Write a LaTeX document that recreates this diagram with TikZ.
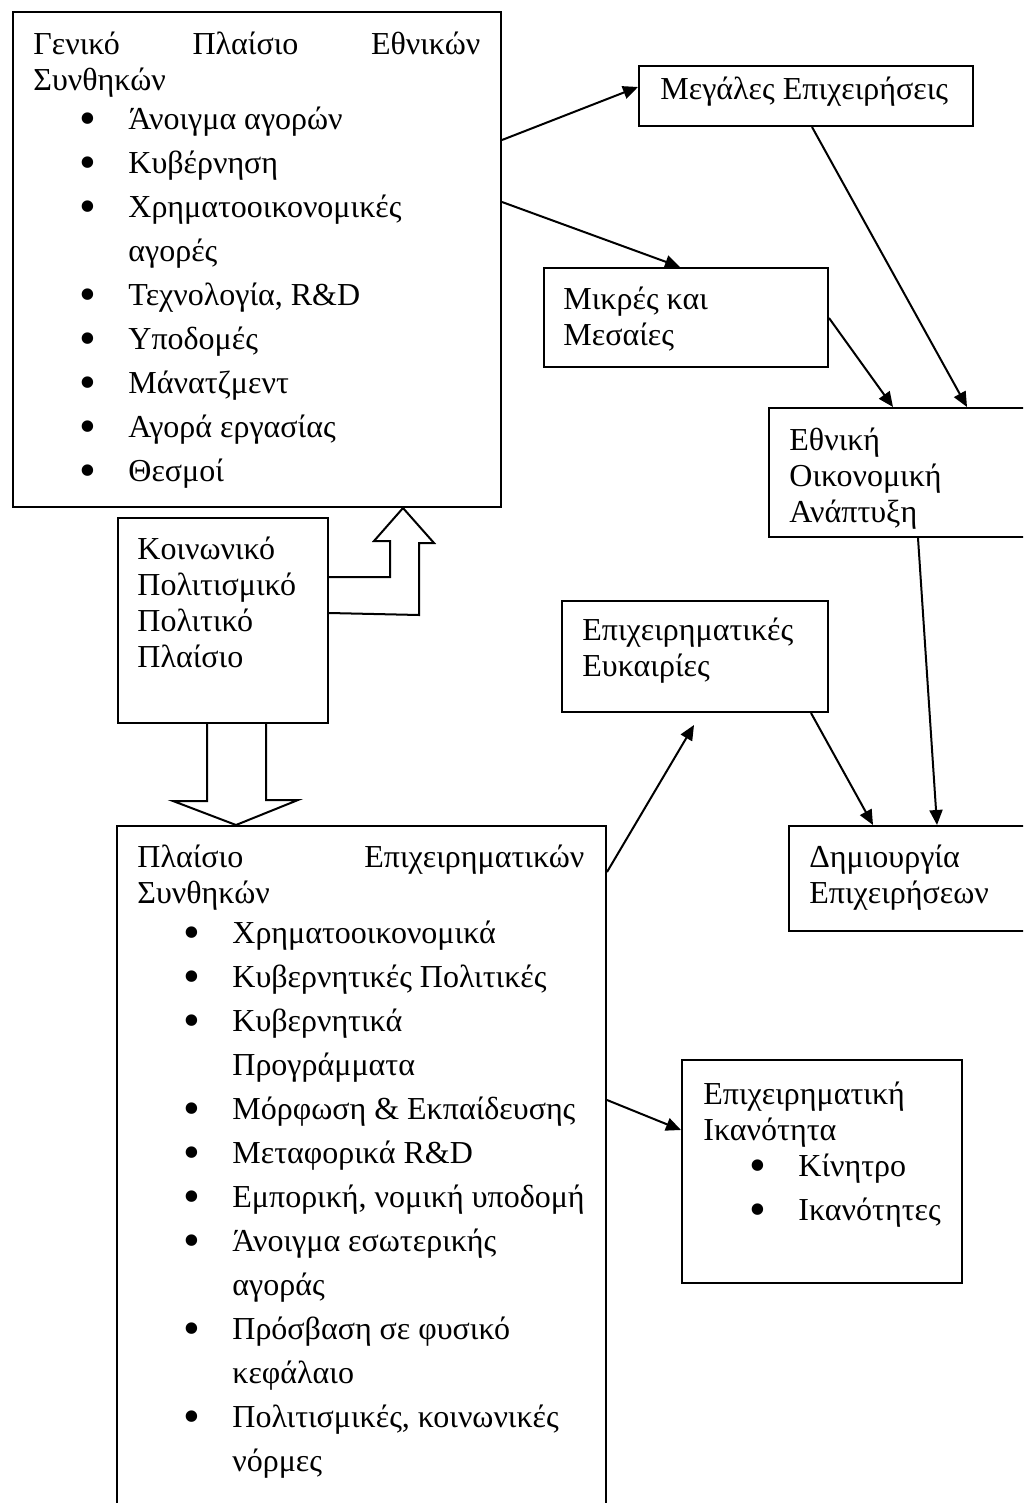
\documentclass[tikz,border=0pt]{standalone}
\usepackage{fontspec}
\usepackage{graphicx}
\setmainfont{Liberation Serif}
\usetikzlibrary{arrows.meta,calc}
\tikzset{
  frm/.style={draw, line width=1pt, anchor=north west, inner sep=0pt},
  txt/.style={anchor=north west, inner sep=0pt, align=left,
    font=\fontsize{16}{18}\selectfont},
  arr/.style={-{Triangle[length=7.5pt,width=6.5pt]}, line width=1pt},
  hollow/.style={draw, line width=1pt, line join=miter},
}
\newcommand{\fl}{\rule{0pt}{15pt}}
\newcommand{\blt}{\smash{\raisebox{-2.3pt}{\scalebox{1.5}{\textbullet}}}}
\newcommand{\itm}[1]{\hspace*{23pt}\makebox[24.5pt][l]{\blt}#1}
\newcommand{\cnt}[1]{\hspace*{47.5pt}#1}
\newcommand{\jst}[2]{\makebox[223.5pt][s]{#1\hfill #2}}

\begin{document}
\begin{tikzpicture}[x=0.5pt, y=-0.5pt]
  \path[use as bounding box, clip] (0,0) rectangle (1023,1503);
  % frames
  \node[frm, minimum width=244pt, minimum height=247.5pt] (gen) at (12,11) {};
  \node[frm, minimum width=167pt, minimum height=30pt] (big) at (638,65) {};
  \node[frm, minimum width=142pt, minimum height=49.5pt] (sme) at (543,267) {};
  \node[frm, minimum width=150pt, minimum height=64.5pt] (nat) at (768,407) {};
  \node[frm, minimum width=105pt, minimum height=102.5pt] (soc) at (117,517) {};
  \node[frm, minimum width=133pt, minimum height=55.5pt] (opp) at (561,600) {};
  \node[frm, minimum width=150pt, minimum height=52.5pt] (cre) at (788,825) {};
  \node[frm, minimum width=244.5pt, minimum height=360pt] (bus) at (116,825) {};
  \node[frm, minimum width=140pt, minimum height=111.5pt] (cap) at (681,1059) {};
  % texts (first baseline 30 units below the node's top)
  \node[txt] (gentxt) at ($(gen.north west)+(21,13)$) {%
    \fl\jst{Γενικό\hfill Πλαίσιο}{Εθνικών}\\
    Συνθηκών\\[1.5pt]
    \itm{Άνοιγμα αγορών}\\[4pt]
    \itm{Κυβέρνηση}\\[4pt]
    \itm{Χρηματοοικονομικές}\\[4pt]
    \cnt{αγορές}\\[4pt]
    \itm{Τεχνολογία, R\&D}\\[4pt]
    \itm{Υποδομές}\\[4pt]
    \itm{Μάνατζμεντ}\\[4pt]
    \itm{Αγορά εργασίας}\\[4pt]
    \itm{Θεσμοί}};
  \node[txt] (bigtxt) at ($(big.north west)+(22,4)$) {\fl Μεγάλες Επιχειρήσεις};
  \node[txt] (smetxt) at ($(sme.north west)+(20,12)$) {\fl Μικρές και\\ Μεσαίες};
  \node[txt] (nattxt) at ($(nat.north west)+(21,13)$) {\fl Εθνική\\ Οικονομική\\ Ανάπτυξη};
  \node[txt] (soctxt) at ($(soc.north west)+(20,12)$) {\fl Κοινωνικό\\ Πολιτισμικό\\ Πολιτικό\\ Πλαίσιο};
  \node[txt] (opptxt) at ($(opp.north west)+(21,10)$) {\fl Επιχειρηματικές\\ Ευκαιρίες};
  \node[txt] (cretxt) at ($(cre.north west)+(21,12)$) {\fl Δημιουργία\\ Επιχειρήσεων};
  \node[txt] (bustxt) at ($(bus.north west)+(21,12)$) {%
    \fl\jst{Πλαίσιο}{Επιχειρηματικών}\\
    Συνθηκών\\[2pt]
    \itm{Χρηματοοικονομικά}\\[4pt]
    \itm{Κυβερνητικές Πολιτικές}\\[4pt]
    \itm{Κυβερνητικά}\\[4pt]
    \cnt{Προγράμματα}\\[4pt]
    \itm{Μόρφωση \& Εκπαίδευσης}\\[4pt]
    \itm{Μεταφορικά R\&D}\\[4pt]
    \itm{Εμπορική, νομική υποδομή}\\[4pt]
    \itm{Άνοιγμα εσωτερικής}\\[4pt]
    \cnt{αγοράς}\\[4pt]
    \itm{Πρόσβαση σε φυσικό}\\[4pt]
    \cnt{κεφάλαιο}\\[4pt]
    \itm{Πολιτισμικές, κοινωνικές}\\[4pt]
    \cnt{νόρμες}};
  \node[txt] (captxt) at ($(cap.north west)+(22,15)$) {%
    \fl Επιχειρηματική\\
    Ικανότητα\\[0pt]
    \itm{Κίνητρο}\\[4pt]
    \itm{Ικανότητες}};
  % hollow block arrows
  \draw[hollow] ($(soc.north east)+(0,60)$) -- ++(61,0) -- ++(0,-36) -- ++(-16,0)
    -- ($(gen.south west)+(391,0)$) -- ++(31,35) -- ++(-15,0) -- ++(0,72)
    -- ($(soc.north east)+(0,96)$);
  \draw[hollow] ($(soc.south west)+(90,0)$) -- ++(0,77) -- ++(-34,0)
    -- ($(bus.north west)+(120,0)$) -- ++(62,-25) -- ++(-32,0) -- ++(0,-77);
  % connectors
  \draw[arr] ($(gen.north east)+(0,129)$) -- ($(big.north west)+(0,22)$);
  \draw[arr] ($(gen.north east)+(0,191)$) -- ($(sme.north west)+(137,0)$);
  \draw[arr] ($(big.south west)+(174,0)$) -- ($(nat.north west)+(199,0)$);
  \draw[arr] ($(sme.north east)+(0,51)$) -- ($(nat.north west)+(125,0)$);
  \draw[arr] ($(nat.south west)+(150,0)$) -- ($(cre.north west)+(149,0)$);
  \draw[arr] ($(opp.south west)+(250,0)$) -- ($(cre.north west)+(85,0)$);
  \draw[arr] ($(bus.north east)+(0,47)$) -- ($(opp.south west)+(133,12)$);
  \draw[arr] ($(bus.north east)+(0,275)$) -- ($(cap.north west)+(0,71)$);
\end{tikzpicture}
\end{document}
